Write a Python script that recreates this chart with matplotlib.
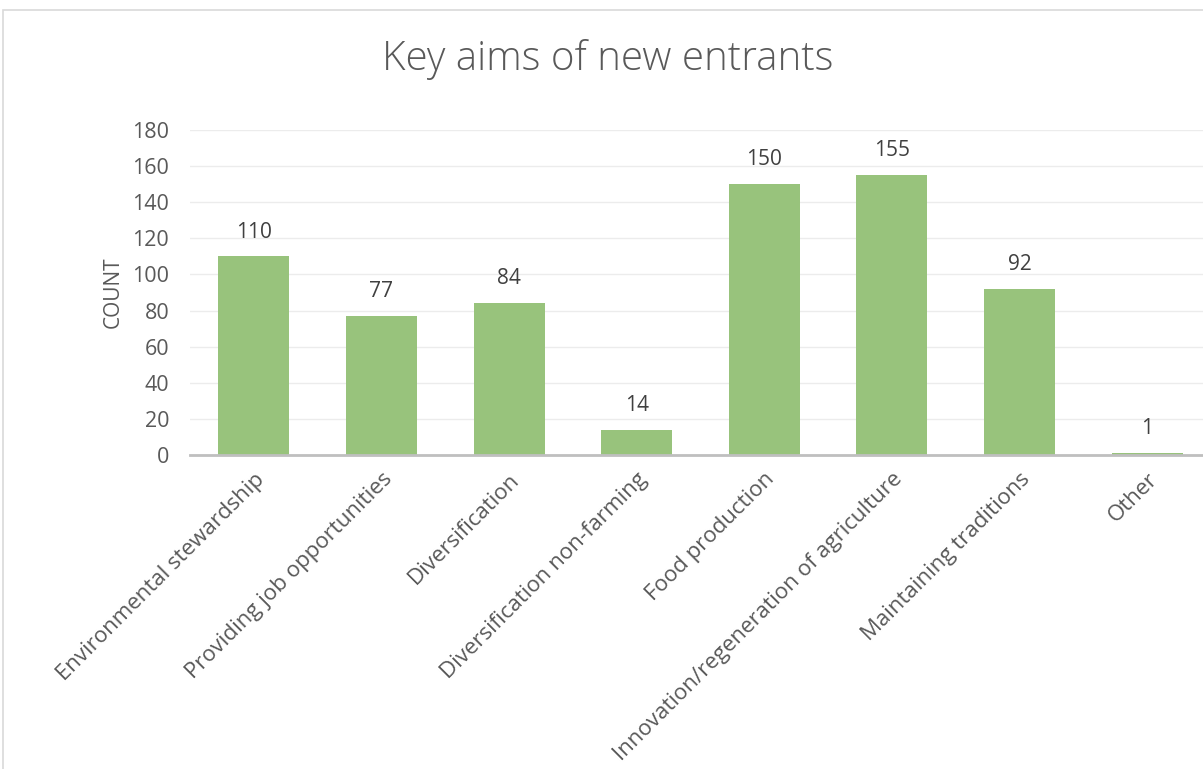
import matplotlib.pyplot as plt
from matplotlib.patches import Rectangle

categories = ['Environmental stewardship', 'Providing job opportunities', 'Diversification',
              'Diversification non-farming', 'Food production',
              'Innovation/regeneration of agriculture', 'Maintaining traditions', 'Other']
counts = [110, 77, 84, 14, 150, 155, 92, 1]
yticks = [0, 20, 40, 60, 80, 100, 120, 140, 160, 180]

plt.rcParams['font.family'] = ['Open Sans', 'DejaVu Sans']
text_color = '#595959'

fig = plt.figure(figsize=(12.03, 7.69), dpi=100)
# chart frame, runs off the right and bottom edges
fig.patches.append(Rectangle((3 / 1203, -0.1), 1.1, 1 - 10 / 769 + 0.1,
                             transform=fig.transFigure, fill=False,
                             edgecolor='#d9d9d9', linewidth=1.2))

ax = fig.add_axes([190 / 1203, (769 - 455) / 769, 1021 / 1203, 325 / 769])
x = range(len(categories))
bars = ax.bar(x, counts, width=0.556, color='#98c37c', zorder=2)
for b, v in zip(bars, counts):
    ax.annotate(str(v), (b.get_x() + b.get_width() / 2, v), xytext=(0, 10),
                textcoords='offset points', ha='center', va='bottom',
                fontsize=15, color='#404040')

ax.set_xlim(-0.5, len(categories) - 0.5)
ax.set_ylim(0, 180)
ax.set_yticks(yticks)
ax.grid(axis='y', color='#ececec', linewidth=1, zorder=0)
for s in ['top', 'right', 'left']:
    ax.spines[s].set_visible(False)
ax.spines['bottom'].set_color('#bfbfbf')
ax.spines['bottom'].set_linewidth(2)
ax.tick_params(axis='both', length=0, labelsize=15.5, colors=text_color)
ax.tick_params(axis='y', pad=15)
ax.set_xticks(list(x))
ax.set_xticklabels(categories, rotation=45, ha='right', rotation_mode='anchor')
ax.tick_params(axis='x', pad=10, labelsize=16)
ax.set_ylabel('COUNT', fontsize=15, color=text_color, labelpad=6)

fig.text(608 / 1203, 1 - 60 / 769, 'Key aims of new entrants', ha='center', va='center',
         fontsize=29, fontweight='light', color=text_color)

fig.savefig('out.png', dpi=100)
